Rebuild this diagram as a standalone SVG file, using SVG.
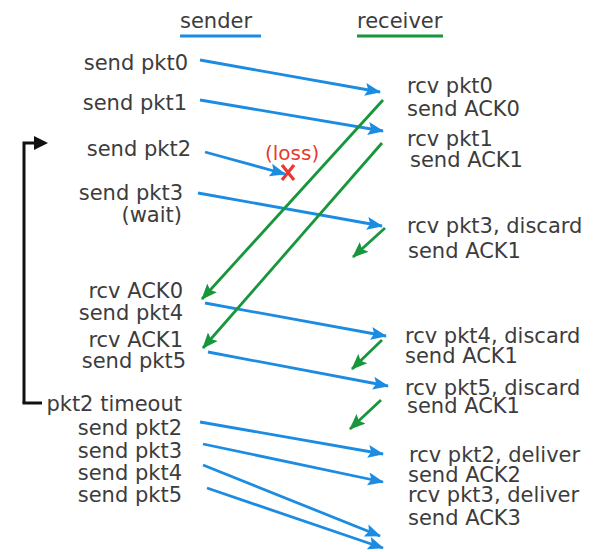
<svg xmlns="http://www.w3.org/2000/svg" width="597" height="552" viewBox="0 0 597 552">
<style>
text{font-family:"DejaVu Sans","Liberation Sans",sans-serif;font-size:21px;fill:#3c3c3c}
.s{text-anchor:end}
.b{stroke:#1c8ce3;stroke-width:2.8;fill:none;marker-end:url(#ab)}
.g{stroke:#17963c;stroke-width:2.8;fill:none;marker-end:url(#ag)}
</style>
<defs>
<marker id="ab" markerUnits="userSpaceOnUse" markerWidth="18" markerHeight="14" refX="15" refY="6.5" orient="auto" viewBox="0 0 18 13"><path d="M0,0 L16,6.5 L0,13 L3,6.5 Z" fill="#1c8ce3"/></marker>
<marker id="ag" markerUnits="userSpaceOnUse" markerWidth="18" markerHeight="14" refX="15" refY="6.5" orient="auto" viewBox="0 0 18 13"><path d="M0,0 L16,6.5 L0,13 L3,6.5 Z" fill="#17963c"/></marker>
<marker id="ak" markerUnits="userSpaceOnUse" markerWidth="16" markerHeight="16" refX="2" refY="7" orient="auto" viewBox="0 0 16 14"><path d="M0,0 L14,7 L0,14 Z" fill="#111"/></marker>
</defs>
<g id="headers">
<text x="180" y="28">sender</text>
<line x1="180" y1="36" x2="261" y2="36" stroke="#1c8ce3" stroke-width="3"/>
<text x="357" y="28">receiver</text>
<line x1="357" y1="36" x2="443" y2="36" stroke="#17963c" stroke-width="3"/>
</g>
<g id="sender-labels">
<text class="s" x="188" y="70">send pkt0</text>
<text class="s" x="187" y="110">send pkt1</text>
<text class="s" x="191" y="156">send pkt2</text>
<text class="s" x="183" y="200">send pkt3</text>
<text class="s" x="182" y="222">(wait)</text>
<text class="s" x="183" y="298">rcv ACK0</text>
<text class="s" x="183" y="320">send pkt4</text>
<text class="s" x="183" y="347">rcv ACK1</text>
<text class="s" x="186" y="368">send pkt5</text>
<text class="s" x="182" y="411">pkt2 timeout</text>
<text class="s" x="182" y="435">send pkt2</text>
<text class="s" x="182" y="458">send pkt3</text>
<text class="s" x="182" y="480">send pkt4</text>
<text class="s" x="182" y="502">send pkt5</text>
</g>
<g id="receiver-labels">
<text x="407" y="93">rcv pkt0</text>
<text x="407" y="116">send ACK0</text>
<text x="407" y="146">rcv pkt1</text>
<text x="410" y="167">send ACK1</text>
<text x="407" y="233">rcv pkt3, discard</text>
<text x="408" y="258">send ACK1</text>
<text x="405" y="343">rcv pkt4, discard</text>
<text x="405" y="363">send ACK1</text>
<text x="405" y="395">rcv pkt5, discard</text>
<text x="407" y="413">send ACK1</text>
<text x="409" y="462">rcv pkt2, deliver</text>
<text x="408" y="482">send ACK2</text>
<text x="408" y="502">rcv pkt3, deliver</text>
<text x="408" y="525">send ACK3</text>
</g>
<g id="timeout">
<path d="M24,403 V143 H36" fill="none" stroke="#111" stroke-width="3" marker-end="url(#ak)"/>
<line x1="22.5" y1="403" x2="42" y2="403" stroke="#111" stroke-width="3"/>
</g>
<g id="loss">
<text x="265" y="160" style="fill:#e83a2e;font-size:20px">(loss)</text>
<path d="M282,165 L294,180 M294,165 L282,180" stroke="#e83a2e" stroke-width="3.2" fill="none"/>
</g>
<g id="connectors">
<line class="b" x1="200" y1="60" x2="380" y2="92"/>
<line class="b" x1="200" y1="100" x2="383" y2="131"/>
<line class="b" x1="205" y1="152" x2="285" y2="174"/>
<line class="b" x1="198" y1="193" x2="382" y2="226"/>
<line class="b" x1="205" y1="303" x2="386" y2="336"/>
<line class="b" x1="208" y1="352" x2="388" y2="386"/>
<line class="b" x1="200" y1="422" x2="383" y2="454"/>
<line class="b" x1="203" y1="444" x2="383" y2="482"/>
<line class="b" x1="203" y1="465" x2="380" y2="536"/>
<line class="b" x1="207" y1="488" x2="383" y2="548"/>
<line class="g" x1="383" y1="100" x2="202" y2="299"/>
<line class="g" x1="382" y1="143" x2="203" y2="348"/>
<line class="g" x1="385" y1="228" x2="353" y2="257"/>
<line class="g" x1="382" y1="340" x2="352" y2="369"/>
<line class="g" x1="381" y1="400" x2="350" y2="429"/>
</g>
</svg>
